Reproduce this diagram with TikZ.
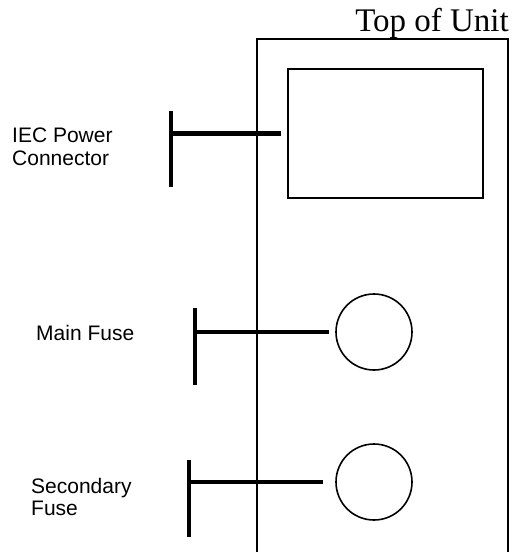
\documentclass[tikz,border=0pt]{standalone}
\usepackage{fontspec}
\setmainfont{Liberation Serif}
\newfontfamily\labelfont{Liberation Sans}
\begin{document}
\begin{tikzpicture}[x=1pt,y=-1pt,
  thinline/.style={line width=1.6pt},
  barline/.style={line width=4.5pt},
  lbl/.style={font=\labelfont\fontsize{21}{23}\selectfont, anchor=base west, align=left, inner sep=0pt},
  part/.style={draw, thinline, inner sep=0pt}]
\useasboundingbox (0,0) rectangle (513,552);
% outer unit outline
\coordinate (ubl) at (257,556);
\coordinate (utl) at (257,39);
\coordinate (utr) at (508,39);
\coordinate (ubr) at (508,556);
\draw[thinline] (ubl) -- (utl) -- (utr) -- (ubr);
\node[font=\fontsize{33}{36}\selectfont, anchor=base east, inner sep=0pt] (title) at (509,31) {Top of Unit};
% IEC power connector
\node[part, rectangle, minimum width=195pt, minimum height=129pt] (iec) at (385.5,133.5) {};
\coordinate (iecbt) at (171,111);
\coordinate (iecbb) at (171,187);
\coordinate (iecb) at (171,133.5);
\draw[barline] (iecbt) -- (iecbb);
\draw[barline, shorten >=6pt] (iecb) -- (iec.west);
\node[lbl] (iect) at (12,165) {IEC Power\\Connector};
% main fuse
\node[part, circle, minimum size=76pt] (mf) at (374,332) {};
\coordinate (mfbt) at (195,308);
\coordinate (mfbb) at (195,385);
\coordinate (mfb) at (195,332);
\draw[barline] (mfbt) -- (mfbb);
\draw[barline, shorten >=6pt] (mfb) -- (mf.west);
\node[lbl] (mft) at (36,340) {Main Fuse};
% secondary fuse
\node[part, circle, minimum size=76pt] (sf) at (374,482) {};
\coordinate (sfbt) at (189,460);
\coordinate (sfbb) at (189,537);
\coordinate (sfb) at (189,482);
\draw[barline] (sfbt) -- (sfbb);
\draw[barline, shorten >=12pt] (sfb) -- (sf.west);
\node[lbl, font=\labelfont\fontsize{21}{22}\selectfont] (sft) at (31,515) {Secondary\\Fuse};
\end{tikzpicture}
\end{document}
